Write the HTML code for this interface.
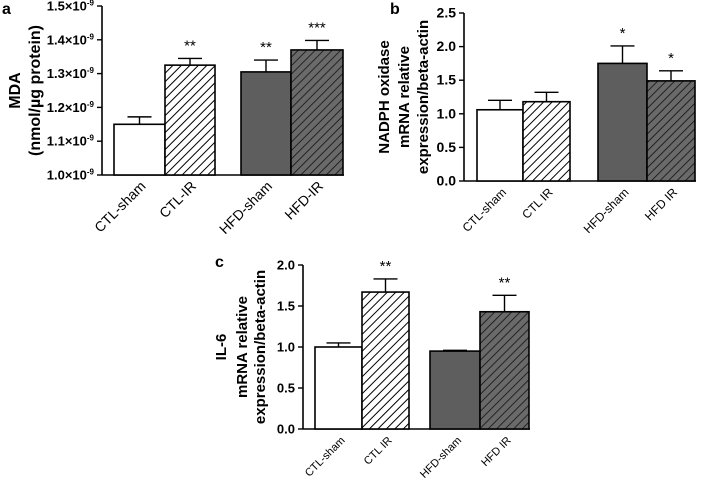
<!DOCTYPE html>
<html><head><meta charset="utf-8"><style>
html,body{margin:0;padding:0;background:#fff;}
svg{display:block;font-family:"Liberation Sans",Arial,sans-serif;}
</style></head><body>
<svg id="fig" width="709" height="479" viewBox="0 0 709 479">
<defs>
<pattern id="hw" patternUnits="userSpaceOnUse" width="6" height="6" patternTransform="rotate(45)">
<rect width="6" height="6" fill="#fff"/><line x1="0" y1="0" x2="0" y2="6" stroke="#000" stroke-width="2"/></pattern>
<pattern id="hg" patternUnits="userSpaceOnUse" width="6" height="6" patternTransform="rotate(45)">
<rect width="6" height="6" fill="#6a6a6a"/><line x1="0" y1="0" x2="0" y2="6" stroke="#111" stroke-width="1.6"/></pattern>
</defs>
</svg>
<script>
const cats = ["CTL-sham","CTL-IR","HFD-sham","HFD-IR"];
const catsB = ["CTL-sham","CTL IR","HFD-sham","HFD IR"];
const valsA = [1.15,1.325,1.305,1.37];
const errA = [0.022,0.02,0.035,0.028];
const starsA = ["","**","**","***"];
const valsB = [1.06,1.18,1.75,1.49];
const errB = [0.14,0.14,0.26,0.15];
const starsB = ["","","*","*"];
const valsC = [1.0,1.67,0.95,1.43];
const errC = [0.05,0.16,0.01,0.2];
const starsC = ["","**","","**"];
const ticksA = ["1.0","1.1","1.2","1.3","1.4","1.5"];
const ticksB = ["0.0","0.5","1.0","1.5","2.0","2.5"];
const ticksC = ["0.0","0.5","1.0","1.5","2.0"];
const NS="http://www.w3.org/2000/svg";
const svg=document.getElementById('fig');
function mk(t,a,p){const e=document.createElementNS(NS,t);for(const k in a)e.setAttribute(k,a[k]);(p||svg).appendChild(e);return e;}
const fills=["#fff","url(#hw)","#5e5e5e","url(#hg)"];
function panel(o){
  const g=mk('g',{});
  
  
  const y=v=>o.y0+(v-o.min)/(o.max-o.min)*(o.y1-o.y0);
  const ax=mk('line',{x1:o.ax,y1:o.y1,x2:o.ax,y2:o.y0,stroke:'#000','stroke-width':1.6},g);
  
  const xl=mk('line',{x1:o.ax,y1:o.y0,x2:o.bars[3][1]+1,y2:o.y0,stroke:'#000','stroke-width':1.6},g);
  
  o.ticks.forEach(t=>{const v=parseFloat(t);const yy=y(v);
    mk('line',{x1:o.ax-5,y1:yy,x2:o.ax,y2:yy,stroke:'#000','stroke-width':1.4},g);
    const tx=mk('text',{x:o.ax-8,y:yy+4.5,'text-anchor':'end','font-size':o.fs,'font-weight':'bold'},g);
    
    if(o.sci){tx.textContent=t+"×10";const s=mk('tspan',{dy:-5,'font-size':8},tx);s.textContent="-9";}
    else tx.textContent=t;
  });
  o.vals.forEach((v,i)=>{const [x0,x1]=o.bars[i];const top=y(v),et=y(v+o.err[i]);const cx=(x0+x1)/2;
    mk('line',{x1:cx,y1:top,x2:cx,y2:et,stroke:'#000','stroke-width':1.4},g);
    mk('line',{x1:cx-12,y1:et,x2:cx+12,y2:et,stroke:'#000','stroke-width':1.4},g);
    const r=mk('rect',{x:x0,y:top,width:x1-x0,height:o.y0-top,fill:fills[i],stroke:'#000','stroke-width':1.6},g);
    
    
    if(o.stars[i]){const s=mk('text',{x:cx,y:et-8,'text-anchor':'middle','font-size':15},g);s.textContent=o.stars[i];
      }
    const lx=cx+7,ly=o.y0+12;
    const l=mk('text',{x:lx,y:ly,'text-anchor':'end','font-size':o.cfs,transform:`rotate(-45 ${lx} ${ly})`},g);
    l.textContent=o.cats[i];
  });
  o.title.forEach((t,i)=>{const tx=o.tx[i],ty=(o.y0+o.y1)/2;
    const e=mk('text',{x:tx,y:ty,'text-anchor':'middle','font-size':o.tfs,'font-weight':'bold',transform:`rotate(-90 ${tx} ${ty})`},g);
    e.textContent=t;});
  const L=mk('text',{x:o.lx,y:o.ly,'font-size':16,'font-weight':'bold'},g);L.textContent=o.id;
  
}
panel({id:'a',ax:102,y0:175,y1:6,min:1.0,max:1.5,ticks:ticksA,sci:true,fs:13,cfs:14,tfs:16,
  vals:valsA,err:errA,stars:starsA,cats:cats,bars:[[114,165],[165,215],[241,291],[291,343]],
  title:["MDA","(nmol/µg protein)"],tx:[20,40],lx:2,ly:14});
panel({id:'b',ax:464,y0:181,y1:13,min:0,max:2.5,ticks:ticksB,fs:14,cfs:12,tfs:15,
  vals:valsB,err:errB,stars:starsB,cats:catsB,bars:[[477,523],[523,570],[598,647],[647,695]],
  title:["NADPH oxidase","mRNA relative","expression/beta-actin"],tx:[389,409,428],lx:390,ly:14});
panel({id:'c',ax:303,y0:429,y1:265,min:0,max:2.0,ticks:ticksC,fs:13,cfs:11,tfs:15,
  vals:valsC,err:errC,stars:starsC,cats:catsB,bars:[[315,362],[362,409],[430,480],[480,529]],
  title:["IL-6","mRNA relative","expression/beta-actin"],tx:[226,247,265],lx:215,ly:267});
</script>
</body></html>
